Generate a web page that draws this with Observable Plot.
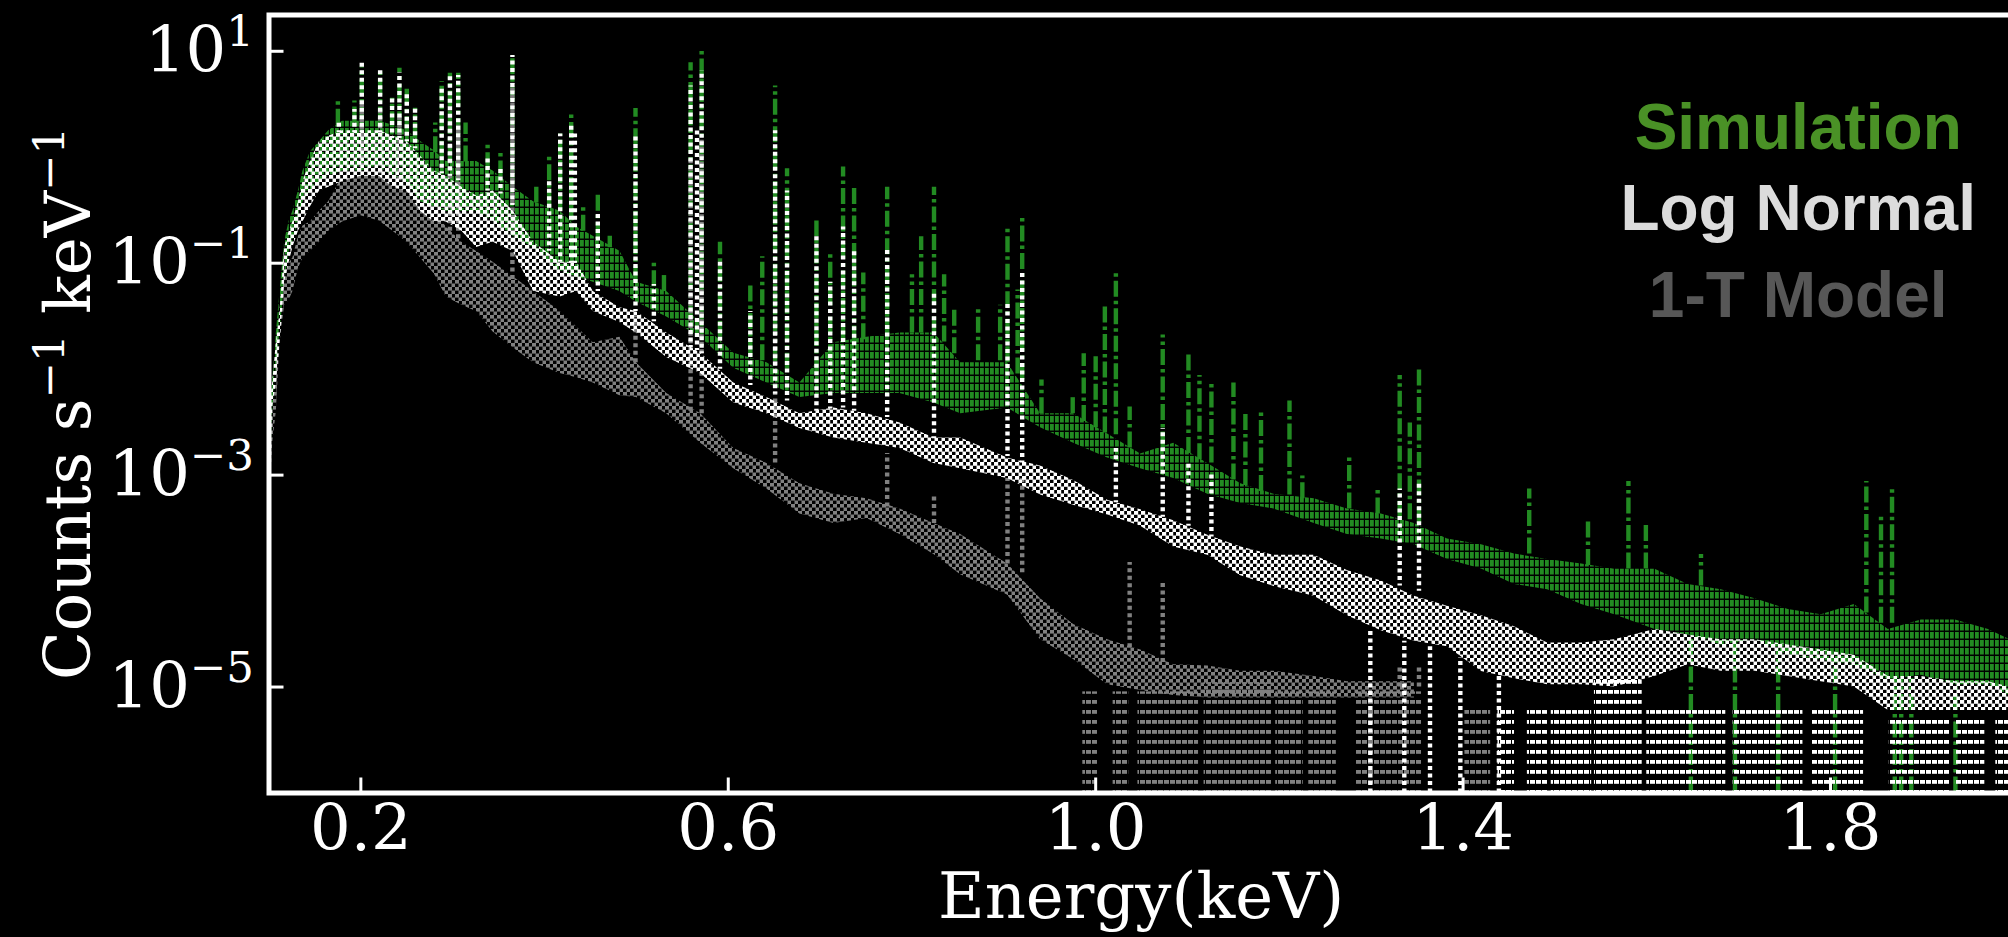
<!DOCTYPE html>
<html><head><meta charset="utf-8">
<script src="https://cdn.jsdelivr.net/npm/d3@7"></script>
<script src="https://cdn.jsdelivr.net/npm/@observablehq/plot@0.6"></script>
<style>
html,body{margin:0;padding:0;background:#000;}
#chart{width:2008px;height:937px;overflow:hidden;}
</style></head><body><div id="chart"></div>
<script>
// ---------------- data ----------------
const seriesNames = ["Simulation", "Log Normal", "1-T Model"];
const seriesColors = ["#228b22", "#ffffff", "#808080"];
const legendColors = ["#4a9126", "#dcdcdc", "#575757"];
const xTicks = [0.2, 0.6, 1.0, 1.4, 1.8];
const yTicks = [1e1, 1e-1, 1e-3, 1e-5];
const xDomain = [0.1, 2.0];
const yDomain = [1e-6, 22];
const xLabel = "Energy(keV)";
const yLabel = "Counts s⁻¹ keV⁻¹";

// continuum envelopes (lower / upper edge of the noisy band), counts s^-1 keV^-1
const bandEnergy = [0.100,0.104,0.108,0.112,0.117,0.122,0.126,0.132,0.137,0.145,
0.155,0.165,0.180,0.200,0.220,0.235,0.250,0.265,0.280,0.293,
0.310,0.326,0.344,0.366,0.388,0.417,0.435,0.453,0.482,0.500,
0.533,0.570,0.606,0.642,0.678,0.715,0.751,0.787,0.824,0.853,
0.904,0.940,0.976,1.013,1.049,1.085,1.122,1.158,1.194,1.238,
1.274,1.311,1.347,1.383,1.420,1.456,1.492,1.529,1.565,1.609,
1.645,1.681,1.718,1.754,1.790,1.826,1.863,1.899,1.936,1.972,
1.995];
const simLo = [5.0e-4,4.0e-3,1.0e-2,2.2e-2,6.6e-2,0.13,0.16,0.25,0.38,0.48,
0.59,0.66,0.74,0.74,0.81,0.66,0.59,0.38,0.34,0.31,
0.31,0.31,0.25,0.18,0.14,0.083,0.074,0.066,0.054,0.043,
0.031,0.020,0.0102,0.0074,0.0054,0.0059,0.0059,0.0059,0.0048,0.0038,
0.0043,0.0028,0.0020,0.00145,0.00115,9.3e-4,6.6e-4,5.4e-4,4.8e-4,3.5e-4,
2.75e-4,2.5e-4,2.2e-4,1.6e-4,1.3e-4,9.3e-5,8.3e-5,6.0e-5,4.8e-5,3.5e-5,
3.1e-5,2.5e-5,2.8e-5,2.0e-5,1.8e-5,1.6e-5,1.17e-5,1.29e-5,1.05e-5,1.05e-5,
8.3e-6];
const simHi = [2.5e-3,7.9e-3,0.022,0.054,0.16,0.25,0.31,0.48,0.74,1.12,
1.41,1.78,2.19,2.19,2.19,2.0,1.78,1.41,1.15,0.91,
0.91,0.91,0.74,0.52,0.38,0.31,0.22,0.18,0.13,0.066,
0.054,0.0275,0.0141,0.0115,0.0074,0.0178,0.020,0.022,0.022,0.0115,
0.0115,0.0038,0.0038,0.00245,0.00158,0.0020,0.00129,8.3e-4,6.6e-4,6.0e-4,
4.8e-4,4.3e-4,3.5e-4,2.5e-4,2.2e-4,1.8e-4,1.6e-4,1.45e-4,1.29e-4,1.29e-4,
9.3e-5,8.3e-5,6.8e-5,5.4e-5,4.8e-5,6.0e-5,3.5e-5,4.3e-5,4.3e-5,3.5e-5,
2.8e-5];
const lnLo = [5.0e-4,4.3e-3,7.4e-3,0.0178,0.066,0.102,0.141,0.20,0.245,0.34,
0.48,0.52,0.59,0.66,0.66,0.52,0.48,0.31,0.245,0.245,
0.20,0.141,0.158,0.129,0.054,0.048,0.054,0.035,0.0275,0.022,
0.0129,0.0091,0.0048,0.0038,0.00275,0.00224,0.0020,0.00178,0.00129,0.00115,
9.3e-4,6.5e-4,5.2e-4,4.2e-4,3.3e-4,2.1e-4,1.75e-4,1.12e-4,8.9e-5,7.2e-5,
4.7e-5,3.4e-5,2.7e-5,2.4e-5,1.4e-5,1.2e-5,1.05e-5,1.05e-5,1.0e-5,1.26e-5,
1.62e-5,1.41e-5,1.41e-5,1.26e-5,1.12e-5,1.0e-5,6.0e-6,6.0e-6,6.0e-6,6.0e-6,
6.0e-6];
const lnHi = [4.0e-3,7.4e-3,0.0178,0.035,0.141,0.20,0.245,0.38,0.59,0.91,
1.41,1.58,1.78,1.78,1.78,1.58,1.41,1.02,0.74,0.66,
0.52,0.43,0.48,0.31,0.158,0.102,0.102,0.054,0.038,0.035,
0.022,0.0141,0.0074,0.0054,0.0038,0.0043,0.0038,0.0031,0.00224,0.00224,
0.00145,0.00122,8.9e-4,5.8e-4,4.7e-4,3.7e-4,2.7e-4,2.1e-4,1.75e-4,1.75e-4,
1.26e-4,1.0e-4,7.2e-5,5.8e-5,4.7e-5,3.7e-5,2.6e-5,2.6e-5,2.8e-5,3.5e-5,
3.1e-5,2.8e-5,2.8e-5,2.5e-5,2.24e-5,2.0e-5,1.26e-5,1.26e-5,1.12e-5,1.12e-5,
1.0e-5];
const tLo = [4.0e-4,2.0e-3,4.0e-3,0.0178,0.040,0.045,0.054,0.089,0.112,0.129,
0.158,0.20,0.245,0.28,0.25,0.20,0.158,0.112,0.079,0.048,
0.040,0.035,0.0224,0.0158,0.0115,0.0091,0.0083,0.0074,0.0056,0.0054,
0.0038,0.0020,0.00115,7.4e-4,4.3e-4,3.5e-4,3.9e-4,2.75e-4,1.78e-4,1.15e-4,
7.4e-5,2.8e-5,1.82e-5,1.05e-5,9.3e-6,8.3e-6,7.9e-6,7.9e-6,7.9e-6,7.9e-6,
7.9e-6,7.9e-6,7.9e-6,null,null,null,null,null,null,null,
null,null,null,null,null,null,null,null,null,null,
null];
const tHi = [1.6e-3,4.0e-3,0.010,0.035,0.079,0.10,0.112,0.178,0.224,0.245,
0.31,0.38,0.66,0.83,0.74,0.66,0.52,0.43,0.31,0.22,
0.158,0.129,0.102,0.074,0.054,0.035,0.025,0.0178,0.020,0.0115,
0.0059,0.0038,0.00178,0.00129,8.3e-4,6.6e-4,6.0e-4,4.8e-4,3.5e-4,2.75e-4,
1.45e-4,6.8e-5,3.9e-5,2.8e-5,2.24e-5,1.62e-5,1.58e-5,1.41e-5,1.41e-5,1.26e-5,
1.12e-5,1.12e-5,1.12e-5,null,null,null,null,null,null,null,
null,null,null,null,null,null,null,null,null,null,
null];

// emission lines: energy, continuum base, peak
const simLineE = [0.175,0.193,0.201,0.221,0.234,0.242,0.250,0.259,0.281,0.288,
0.297,0.306,0.314,0.338,0.352,0.365,0.391,0.405,0.417,0.429,
0.442,0.458,0.471,0.499,0.519,0.530,0.559,0.571,0.591,0.624,
0.637,0.651,0.664,0.696,0.711,0.725,0.737,0.747,0.773,0.800,
0.810,0.824,0.835,0.846,0.872,0.896,0.904,0.915,0.920,0.941,
0.975,0.987,1.000,1.010,1.022,1.037,1.073,1.101,1.113,1.126,
1.150,1.163,1.180,1.211,1.225,1.276,1.307,1.331,1.342,1.352,
1.472,1.536,1.580,1.599,1.659,1.839,1.855,1.867];
const simLineBase = [2.0,2.1,2.1,2.1,1.9,1.9,1.7,1.5,1.1,1.0,
0.9,0.9,0.9,0.78,0.65,0.55,0.37,0.33,0.31,0.25,
0.2,0.17,0.14,0.066,0.06,0.054,0.03,0.0275,0.02,0.013,
0.012,0.0115,0.01,0.009,0.012,0.018,0.018,0.019,0.02,0.022,
0.022,0.022,0.018,0.014,0.012,0.012,0.0115,0.009,0.008,0.0038,
0.0038,0.0032,0.0028,0.0025,0.0024,0.0018,0.0018,0.0016,0.0014,0.0013,
0.0009,0.0008,0.0007,0.00065,0.0006,0.00048,0.00043,0.0004,0.00038,0.00035,
0.00018,0.00014,0.00013,0.00013,0.00009,0.00005,0.00004,0.00004];
const simLinePeak = [3.4,3.4,7.1,6.6,3.6,6.9,4.7,2.9,2.1,5.2,
6.2,6.2,2.1,1.38,1.12,9.1,0.52,1.05,1.66,2.57,
0.36,0.45,0.18,2.88,0.107,0.078,7.8,10.7,0.158,0.063,
0.115,4.7,0.78,0.25,0.12,0.81,0.53,0.081,0.52,0.078,
0.178,0.52,0.078,0.038,0.038,0.04,0.21,0.056,0.275,0.0079,
0.0056,0.014,0.0138,0.039,0.083,0.0044,0.021,0.0138,0.0087,0.0074,
0.0074,0.004,0.0041,0.005,0.00098,0.0015,0.00074,0.0087,0.0031,0.0102,
0.00074,0.00039,0.00087,0.00035,0.000178,0.00087,0.00043,0.00078];

const lnLineE = [0.176,0.193,0.201,0.221,0.234,0.242,0.250,0.259,0.288,0.297,
0.306,0.338,0.352,0.365,0.405,0.417,0.429,0.433,0.458,0.499,
0.519,0.559,0.566,0.571,0.591,0.624,0.651,0.664,0.696,0.711,
0.725,0.737,0.773,0.824,0.904,0.920,1.022,1.073,1.101,1.126,
1.331,1.352];
const lnLineBase = [1.7,1.7,1.7,1.7,1.5,1.5,1.4,1.2,0.7,0.66,
0.6,0.48,0.45,0.35,0.13,0.102,0.1,0.1,0.054,0.035,
0.028,0.016,0.015,0.014,0.01,0.007,0.0058,0.005,0.004,0.0042,
0.0043,0.004,0.0035,0.0022,0.0015,0.0013,0.00055,0.0004,0.00033,0.00026,
0.00009,0.00008];
const lnLinePeak = [2.24,2.82,8.1,6.6,3.6,6.3,4.0,2.9,4.7,5.9,
5.9,1.0,0.79,9.1,0.63,1.66,2.09,1.66,0.30,1.58,
0.063,4.7,1.78,6.6,0.102,0.035,1.78,0.48,0.178,0.066,
0.22,0.129,0.141,0.054,0.043,0.081,0.00178,0.00275,0.0013,0.00102,
0.00074,0.00083];

const tLineE = [0.201,0.221,0.242,0.297,0.306,0.365,0.499,0.559,0.571,0.651,0.773,0.824,0.904,0.920,1.037,1.073,1.331,1.352];
const tLineBase = [0.8,0.7,0.6,0.2,0.17,0.07,0.0115,0.004,0.0038,0.0013,0.0005,0.00035,0.000145,0.00012,0.00002,0.000017,0.00001,0.00001];
const tLinePeak = [3.2,2.8,2.5,2.0,2.0,5.0,0.032,1.0,1.45,0.063,0.0016,0.00063,0.00093,0.001,0.00015,0.0001,0.000016,0.000016];

// energy ranges where the model drops to zero (drawn down to the axis floor)
const tFloorStart = [0.986,1.019,1.046,1.118,1.196,1.232,1.283,1.402,1.440];
const tFloorEnd   = [1.002,1.036,1.112,1.192,1.226,1.262,1.355,1.430,1.450];
const tFloorTop   = [9e-6,9e-6,9e-6,1.1e-5,9e-6,9e-6,9e-6,6.5e-6,6.5e-6];
const lnFloorStart = [1.438,1.470,1.496,1.543,1.600,1.694,1.780,1.864,1.936,1.980];
const lnFloorEnd   = [1.456,1.492,1.540,1.595,1.686,1.770,1.836,1.930,1.968,1.995];
const lnFloorTop   = [6e-6,6e-6,6e-6,1.2e-5,6e-6,6e-6,6e-6,5.5e-6,5.5e-6,5.5e-6];
const lnDropE = [1.299,1.336,1.364,1.397,1.439];
const lnDropTop = [3.5e-5,2.7e-5,2.4e-5,1.9e-5,1.3e-5];
const simDropE = [1.648,1.696,1.743,1.805,1.870,1.877,1.888,1.936];
const simDropTop = [3.1e-5,2.6e-5,2.2e-5,1.8e-5,1.2e-5,1.2e-5,1.2e-5,1.05e-5];

// ---------------- build tables ----------------
const band = (lo, hi) => bandEnergy.map((e, i) => ({e, lo: lo[i], hi: hi[i]}));
const lines = (E, b, p) => E.map((e, i) => ({e, base: b[i], peak: p[i]}));
const floors = (s, f, t) => s.map((e, i) => ({e0: e, e1: f[i], top: t[i]}));
const drops = (E, t) => E.map((e, i) => ({e, top: t[i]}));
const floorY = () => yDomain[0];

const FS = 64;
const dotted = "4,3.5";
const dashdot = "16,4,3.5,4";
const sw = 4.4;

const sup = {"-": "⁻", "0": "⁰", "1": "¹", "2": "²", "3": "³", "4": "⁴", "5": "⁵"};
const fmtPow = d => "10" + String(Math.round(Math.log10(d))).split("").map(c => sup[c]).join("");

const chart = Plot.plot({
  width: 2008, height: 937,
  marginLeft: 268.5, marginRight: -5.7, marginTop: 14.5, marginBottom: 144.5,
  style: {background: "#000", color: "#fff", fontFamily: "DejaVu Serif", fontSize: FS + "px"},
  x: {domain: xDomain},
  y: {type: "log", domain: yDomain},
  marks: [
    // Simulation
    Plot.areaY(band(simLo, simHi), {x: "e", y1: "lo", y2: "hi", fill: "url(#patSim)", clip: true}),
    Plot.ruleX(lines(simLineE, simLineBase, simLinePeak), {x: "e", y1: "base", y2: "peak", stroke: seriesColors[0], strokeWidth: sw, strokeDasharray: dashdot, clip: true}),
    Plot.ruleX(drops(simDropE, simDropTop), {x: "e", y1: floorY, y2: "top", stroke: seriesColors[0], strokeWidth: sw, strokeDasharray: dashdot, clip: true}),
    // 1-T model
    Plot.areaY(band(tLo, tHi), {x: "e", y1: "lo", y2: "hi", fill: "url(#patT)", clip: true}),
    Plot.rect(floors(tFloorStart, tFloorEnd, tFloorTop), {x1: "e0", x2: "e1", y1: floorY, y2: "top", fill: "url(#patTFloor)", clip: true}),
    Plot.ruleX(lines(tLineE, tLineBase, tLinePeak), {x: "e", y1: "base", y2: "peak", stroke: seriesColors[2], strokeWidth: sw, strokeDasharray: dotted, clip: true}),
    // Log normal
    Plot.areaY(band(lnLo, lnHi), {x: "e", y1: "lo", y2: "hi", fill: "url(#patLn)", clip: true}),
    Plot.rect(floors(lnFloorStart, lnFloorEnd, lnFloorTop), {x1: "e0", x2: "e1", y1: floorY, y2: "top", fill: "url(#patLnFloor)", clip: true}),
    Plot.ruleX(drops(lnDropE, lnDropTop), {x: "e", y1: floorY, y2: "top", stroke: seriesColors[1], strokeWidth: sw, strokeDasharray: dotted, clip: true}),
    Plot.ruleX(lines(lnLineE, lnLineBase, lnLinePeak), {x: "e", y1: "base", y2: "peak", stroke: seriesColors[1], strokeWidth: sw, strokeDasharray: dotted, strokeDashoffset: 2, clip: true}),
    // frame + axes
    Plot.frame({stroke: "#fff", strokeWidth: 5}),
    Plot.axisY({ticks: yTicks, tickSize: 15, dx: 15, fill: "none", label: null, stroke: "#fff", strokeWidth: 3}),
    Plot.axisY({ticks: yTicks, tickSize: 0, tickPadding: 15, tickFormat: fmtPow, label: yLabel, labelAnchor: "center", labelArrow: "none"}),
    Plot.axisX({ticks: xTicks, tickSize: 15, dy: -15, fill: "none", label: null, stroke: "#fff", strokeWidth: 3}),
    Plot.axisX({ticks: xTicks, tickSize: 0, tickPadding: 12, tickFormat: d3.format(".1f"), label: xLabel, labelAnchor: "center", labelArrow: "none"}),
    // legend
    ...seriesNames.map((name, i) => Plot.text([name], {
      text: d => d, frameAnchor: "top-right", dx: -216, dy: [89, 170, 257][i],
      fill: legendColors[i], fontFamily: "Liberation Sans", fontWeight: "bold", fontSize: 64, textAnchor: "middle"
    }))
  ]
});

// patterns that imitate the dense dotted / dash-dot line texture
const NS = "http://www.w3.org/2000/svg";
const defs = document.createElementNS(NS, "defs");
defs.innerHTML = `
<pattern id="patSim" width="5" height="8" patternUnits="userSpaceOnUse"><rect x="0" y="0" width="3.8" height="6.5" fill="${seriesColors[0]}"/></pattern>
<pattern id="patLn" width="7" height="7" patternUnits="userSpaceOnUse"><rect x="0" y="0" width="4.2" height="3.8" fill="${seriesColors[1]}"/><rect x="3.5" y="3.5" width="4.2" height="3.8" fill="${seriesColors[1]}"/></pattern>
<pattern id="patT" width="7" height="7" patternUnits="userSpaceOnUse"><rect x="0" y="0" width="4" height="3.6" fill="${seriesColors[2]}"/><rect x="3.5" y="3.5" width="4" height="3.6" fill="${seriesColors[2]}"/></pattern>
<pattern id="patTFloor" width="6" height="10" patternUnits="userSpaceOnUse"><rect x="0" y="0" width="5" height="3.8" fill="${seriesColors[2]}"/></pattern>
<pattern id="patLnFloor" width="6" height="10" patternUnits="userSpaceOnUse"><rect x="0" y="0" width="5" height="3.8" fill="${seriesColors[1]}"/></pattern>`;
chart.insertBefore(defs, chart.firstChild);

// superscripts as real tspans; drop any axis-label arrows
const plain = {"⁻": "−", "⁰": "0", "¹": "1", "²": "2", "³": "3", "⁴": "4", "⁵": "5"};
chart.querySelectorAll("text").forEach(t => {
  let s = t.textContent;
  if (/[→↑←↓]/.test(s)) { s = s.replace(/\s*[→↑←↓]\s*/g, ""); t.textContent = s; }
  if (!/[⁻⁰¹²³⁴⁵]/.test(s)) return;
  const parts = s.split(/([⁻⁰¹²³⁴⁵]+)/).filter(p => p.length);
  while (t.firstChild) t.removeChild(t.firstChild);
  parts.forEach(p => {
    const ts = document.createElementNS(NS, "tspan");
    if (/^[⁻⁰¹²³⁴⁵]+$/.test(p)) {
      ts.textContent = [...p].map(c => plain[c]).join("");
      ts.setAttribute("font-size", FS * 0.68);
      ts.setAttribute("baseline-shift", FS * 0.4);
    } else ts.textContent = p;
    t.appendChild(ts);
  });
});

// place axis titles
function placeLabel(aria, x, y, rot) {
  const g = chart.querySelector(`g[aria-label="${aria}"]`);
  if (!g) return;
  g.removeAttribute("transform");
  const t = g.querySelector("text");
  ["x", "y", "dy", "dx"].forEach(a => t.removeAttribute(a));
  t.setAttribute("transform", `translate(${x},${y})` + (rot ? ` rotate(${rot})` : ""));
  t.setAttribute("text-anchor", "middle");
}
placeLabel("x-axis label", (268.5 + 2013.7) / 2, 918, 0);
placeLabel("y-axis label", 90, (14.5 + 792.5) / 2, -90);

document.getElementById("chart").appendChild(chart);
</script>
</body></html>
